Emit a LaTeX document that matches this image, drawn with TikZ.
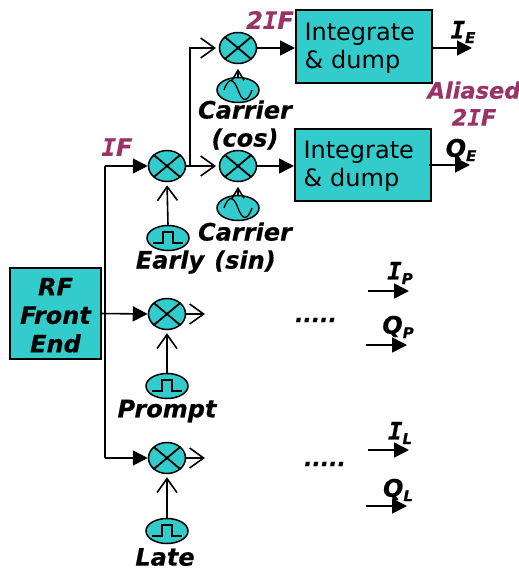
\documentclass[tikz,border=0pt]{standalone}
\usepackage{fontspec}
\setmainfont{DejaVu Sans}[BoldItalicFeatures={FakeBold=0.4}]
\newfontfamily\serifbar{DejaVu Sans Mono}[BoldItalicFeatures={FakeBold=0.4}]
\usetikzlibrary{arrows.meta,shapes.geometric}
\definecolor{boxcyan}{HTML}{33CCCC}
\definecolor{ifpurple}{HTML}{993366}
\providecommand{\barI}{{\serifbar I}}
\providecommand{\chan}[2]{#1\raisebox{-.35ex}{\fontsize{15}{15}\selectfont #2}}
\tikzset{
    bigfont/.style={font=\fontsize{24}{28}\selectfont},
    lbl/.style={font=\bfseries\itshape\fontsize{24}{28}\selectfont,inner sep=0},
    iflbl/.style={lbl,text=ifpurple,align=center},
    ibox/.style={draw,fill=boxcyan,line width=2pt,minimum width=136pt,minimum height=72.5pt,
        inner sep=0,bigfont,text width=119pt,align=left},
    rfbox/.style={draw,fill=boxcyan,line width=2pt,minimum width=91pt,minimum height=91pt,
        inner sep=0,lbl,align=center},
    mixer/.style={ellipse,draw,fill=boxcyan,line width=1.5pt,minimum width=37pt,minimum height=31pt,inner sep=0,
        path picture={\draw[line width=1.8pt] (path picture bounding box.north west) -- (path picture bounding box.south east)
            (path picture bounding box.north east) -- (path picture bounding box.south west);}},
    osc/.style={ellipse,draw,fill=boxcyan,line width=1.5pt,minimum width=42pt,minimum height=25pt,inner sep=0},
    sineosc/.style={osc,path picture={\draw[line width=1.3pt,shift={(path picture bounding box.center)}]
        (-14,0) .. controls (-9,-14) and (-4,-11) .. (0,0) .. controls (4,11) and (9,14) .. (14,0);}},
    pulseosc/.style={osc,path picture={\draw[line width=1.3pt,shift={(path picture bounding box.center)}]
        (-15,5) -- (-5,5) -- (-5,-6) -- (5,-6) -- (5,5) -- (15,5);}},
    wire/.style={line width=1.6pt},
    solidarrow/.style={wire,-{Triangle[length=15pt,width=15pt]}},
    openarrow/.style={wire,-{Straight Barb[length=14pt,width=20pt,line width=1.6pt]}},
    tinyarrow/.style={wire,shorten >=4.5pt,-{Straight Barb[length=10pt,width=12pt,line width=1.6pt]}},
}
\begin{document}
\begin{tikzpicture}[x=1pt,y=-1pt]
    \useasboundingbox (0,0) rectangle (519,571);
    % boxes
    \node[rfbox] (rf) at (55.5,313.5) {\rule{0pt}{21pt}RF\\[.5pt]Front\\[.5pt]End};
    \node[ibox] (intI) at (364,46.5) {\rule{0pt}{20pt}Integrate\\\& dump};
    \node[ibox] (intQ) at (363,165) {\rule{0pt}{20pt}Integrate\\\& dump};
    % mixers
    \node[mixer] (mixE) at (167,166) {};
    \node[mixer] (mixP) at (167,314) {};
    \node[mixer] (mixL) at (167,458) {};
    \node[mixer] (mixI) at (238,48) {};
    \node[mixer] (mixQ) at (238,166) {};
    % local signals
    \node[sineosc] (cosine) at (238,90) {};
    \node[sineosc] (sine) at (238,208) {};
    \node[pulseosc] (early) at (168,238) {};
    \node[pulseosc] (prompt) at (167,386) {};
    \node[pulseosc] (late) at (167,531) {};
    % free ends
    \coordinate (trunktop) at (105,166);
    \coordinate (trunkbot) at (105,458);
    \coordinate (branch) at (190,166);
    \coordinate (tipI) at (216,48);
    \coordinate (tipQ) at (216,166);
    \coordinate (tipP) at (205,314);
    \coordinate (tipL) at (205,458);
    \coordinate (outIE) at (472,48);
    \coordinate (outQEa) at (429,165);
    \coordinate (outQE) at (470,165);
    \coordinate (aIP) at (368,291);
    \coordinate (bIP) at (409,291);
    \coordinate (aQP) at (366,345);
    \coordinate (bQP) at (407,345);
    \coordinate (aIL) at (368,450);
    \coordinate (bIL) at (409,450);
    \coordinate (aQL) at (366,506);
    \coordinate (bQL) at (407,506);
    % connectors
    \draw[wire] (trunktop) -- (trunkbot);
    \draw[solidarrow] (trunktop) -- (mixE.west);
    \draw[solidarrow] (trunkbot) -- (mixL.west);
    \draw[solidarrow] (rf.east) -- (mixP.west);
    \draw[openarrow,shorten >=3pt] (early.north) -- (mixE.south);
    \draw[openarrow,shorten >=3pt] (prompt.north) -- (mixP.south);
    \draw[openarrow,shorten >=3pt] (late.north) -- (mixL.south);
    \draw[tinyarrow] (cosine.north) -- (mixI.south);
    \draw[tinyarrow] (sine.north) -- (mixQ.south);
    \draw[openarrow] (mixE.east) -- (tipQ);
    \draw[openarrow] (branch) |- (tipI);
    \draw[openarrow] (mixP.east) -- (tipP);
    \draw[openarrow] (mixL.east) -- (tipL);
    \draw[solidarrow] (mixI.east) -- (intI.west |- mixI);
    \draw[solidarrow] (mixQ.east) -- (intQ.west |- mixQ);
    \draw[solidarrow] (intI.east |- outIE) -- (outIE);
    \draw[solidarrow] (outQEa) -- (outQE);
    \draw[solidarrow] (aIP) -- (bIP);
    \draw[solidarrow] (aQP) -- (bQP);
    \draw[solidarrow] (aIL) -- (bIL);
    \draw[solidarrow] (aQL) -- (bQL);
    % labels
    \node[iflbl] (lblIF) at (117,147) {\barI F};
    \node[iflbl] (lbl2IF) at (270,20) {2\barI F};
    \node[iflbl,font=\bfseries\itshape\fontsize{22.5}{27}\selectfont] (lblAlias) at (474,103.5) {Aliased\\2\barI F};
    \node[lbl,align=center] (lblCos) at (245,125) {Carrier\\(cos)};
    \node[lbl,align=center] (lblSin) at (245,247) {Carrier\\(sin)};
    \node[lbl] (lblEarly) at (170,262) {Early};
    \node[lbl] (lblPrompt) at (167,411) {Prompt};
    \node[lbl] (lblLate) at (165,557) {Late};
    \node[lbl] (lblIE) at (463,32) {\chan{\barI}{E}};
    \node[lbl] (lblQE) at (461,150) {\chan{Q}{E}};
    \node[lbl] (lblIP) at (400,273) {\chan{\barI}{P}};
    \node[lbl] (lblQP) at (398,327) {\chan{Q}{P}};
    \node[lbl] (lblIL) at (400,433) {\chan{\barI}{L}};
    \node[lbl] (lblQL) at (398,490) {\chan{Q}{L}};
    \node[lbl,font=\bfseries\itshape\fontsize{22}{26}\selectfont] (dotsP) at (316,320) {.....};
    \node[lbl,font=\bfseries\itshape\fontsize{22}{26}\selectfont] (dotsL) at (325,464) {.....};
\end{tikzpicture}
\end{document}
